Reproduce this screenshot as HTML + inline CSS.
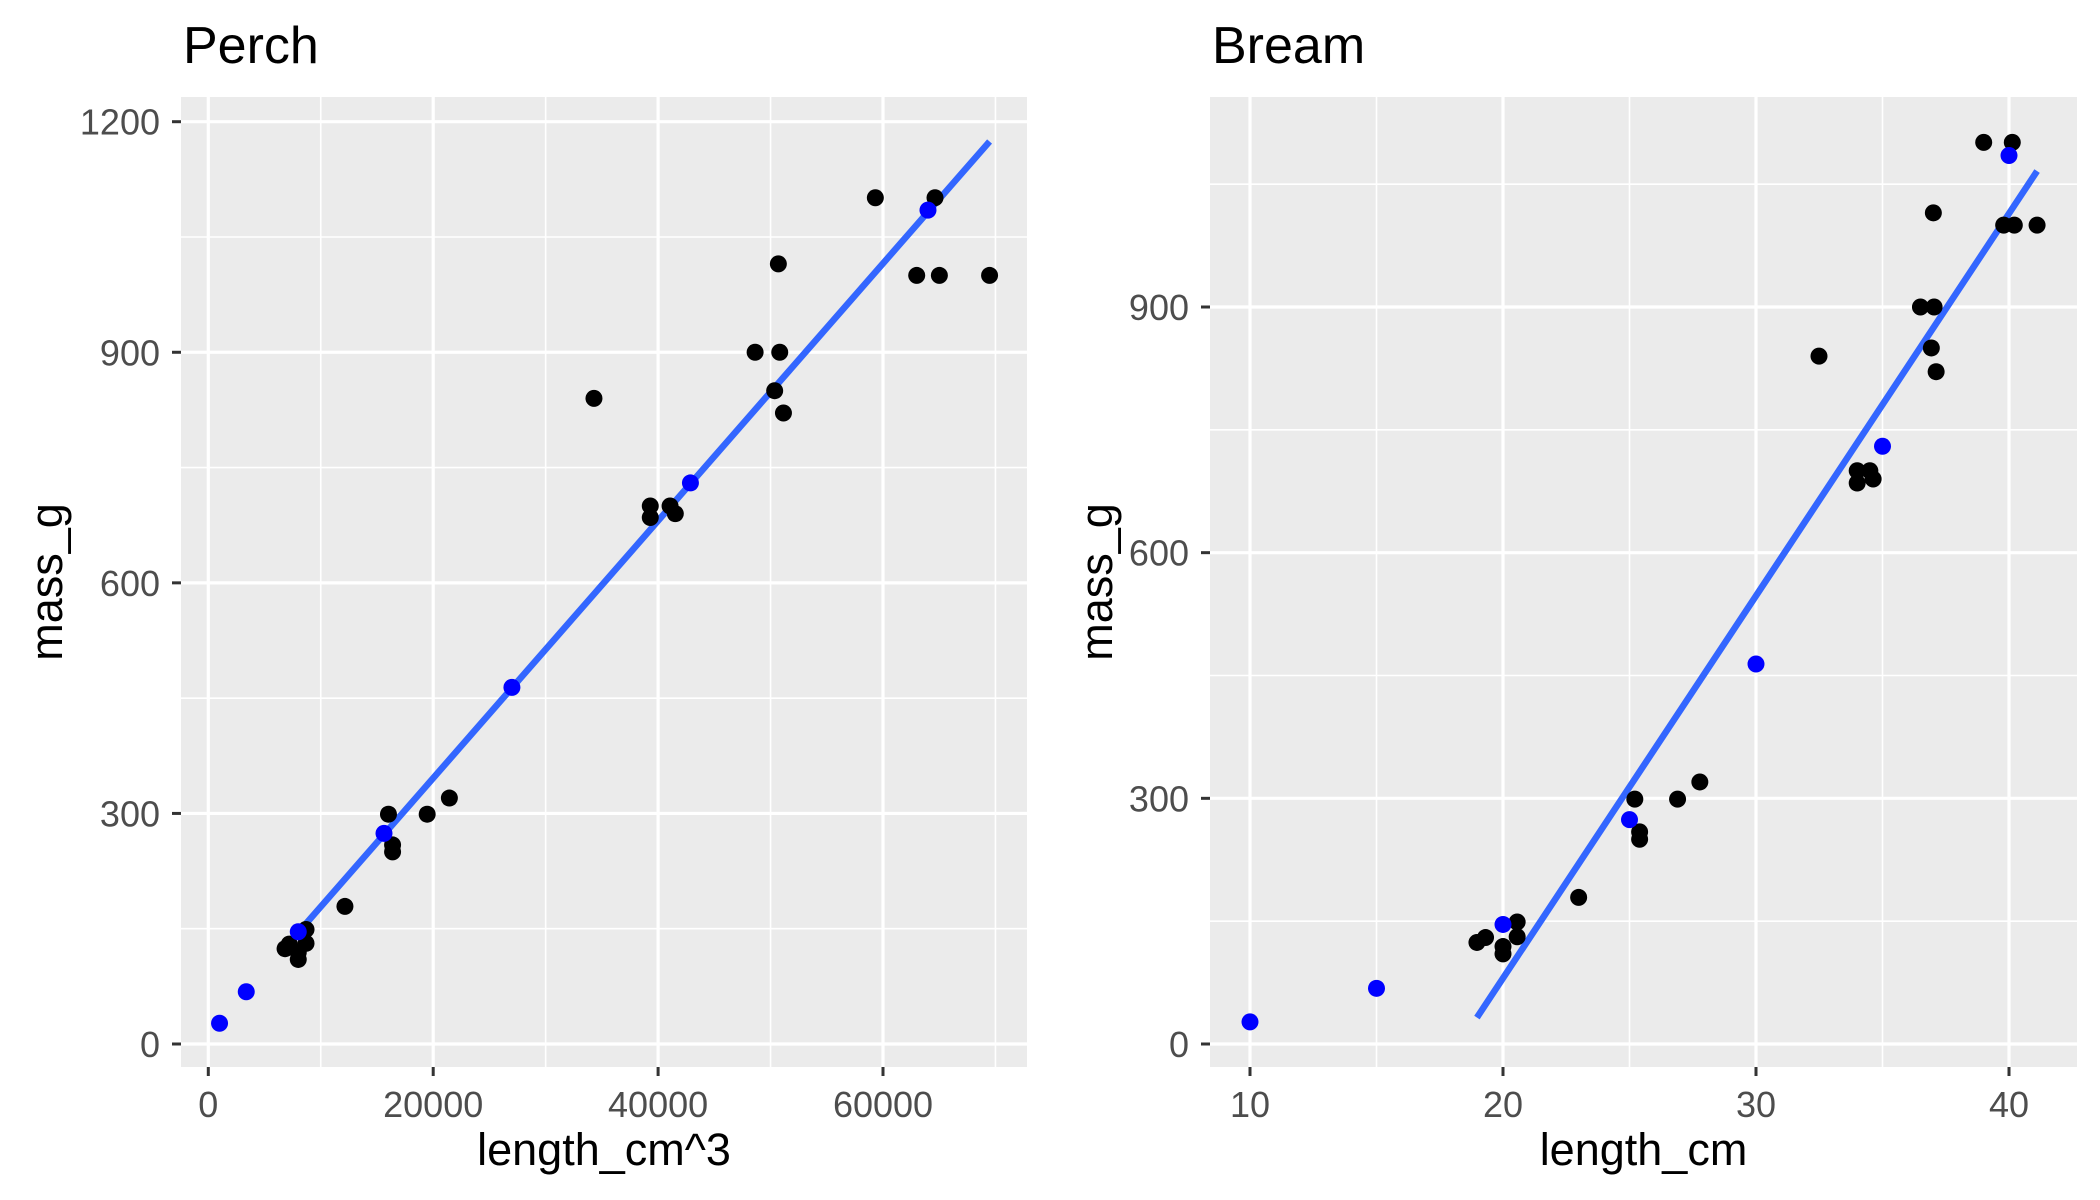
<!DOCTYPE html>
<html><head><meta charset="utf-8"><style>
html,body{margin:0;padding:0;background:#fff;}
svg{display:block;font-family:"Liberation Sans",Arial,sans-serif;}
</style></head><body>
<svg id="chart" width="2100" height="1200" viewBox="0 0 2100 1200" xmlns="http://www.w3.org/2000/svg"></svg>
<script>
// Observed data: bream lengths (cm) and masses (g)
const breamLength = [18.97,19.31,20.0,20.0,20.56,20.56,22.99,25.21,25.40,25.40,26.9,27.78,32.49,34.0,34.0,34.5,34.63,36.5,37.04,36.93,37.01,37.12,39.0,40.13,39.79,40.21,41.11];
const breamMass = [124,130,110,119,131,149,179,299,259,250,299,320,840,700,685,700,690,900,900,850,1015,821,1101,1101,1000,1000,1000];
// Predictions (blue points)
const predLength = [10,15,20,25,30,35,40];
const predMass = [27,68,146,274,464,730,1085];
// Fitted line coefficients
const perchFit = [11.2, 0.01674];
const breamFit = [-853.4, 46.69];
// Tick labels
const perchXTicks = [0,20000,40000,60000];
const perchXMinor = [10000,30000,50000,70000];
const perchYTicks = [0,300,600,900,1200];
const perchYMinor = [150,450,750,1050];
const breamXTicks = [10,20,30,40];
const breamXMinor = [15,25,35];
const breamYTicks = [0,300,600,900];
const breamYMinor = [150,450,750,1050];

const NS = "http://www.w3.org/2000/svg";
const svg = document.getElementById("chart");
function mk(tag, attrs, parent){
  const e = document.createElementNS(NS, tag);
  for (const k in attrs) e.setAttribute(k, attrs[k]);
  (parent||svg).appendChild(e);
  return e;
}

function panel(opt){
  const g = mk("g", {});
  
  
  const sx = v => opt.px0 + (v - opt.xa) / (opt.xb - opt.xa) * (opt.px1 - opt.px0);
  const sy = v => opt.py0 + (v - opt.ya) / (opt.yb - opt.ya) * (opt.py1 - opt.py0);
  const L = opt.left, R = opt.right, T = opt.top, B = opt.bottom;
  const bg = mk("rect", {x:L, y:T, width:R-L, height:B-T, fill:"#ebebeb"}, g);
  
  
  opt.yMinor.forEach(v => {
    const l = mk("line", {x1:L, x2:R, y1:sy(v), y2:sy(v), stroke:"#fff", "stroke-width":1.6}, g);
    
    
  });
  opt.xMinor.forEach(v => {
    const l = mk("line", {x1:sx(v), x2:sx(v), y1:T, y2:B, stroke:"#fff", "stroke-width":1.6}, g);
    
    
  });
  opt.yTicks.forEach(v => {
    const y = sy(v);
    const l = mk("line", {x1:L, x2:R, y1:y, y2:y, stroke:"#fff", "stroke-width":3.2}, g);
    
    
    const t = mk("line", {x1:L-9, x2:L, y1:y, y2:y, stroke:"#333", "stroke-width":3}, g);
    
    
    const tx = mk("text", {x:L-21, y:y+13, "text-anchor":"end", "font-size":36, fill:"#4d4d4d"}, g);
    
    
    tx.textContent = v;
  });
  opt.xTicks.forEach(v => {
    const x = sx(v);
    const l = mk("line", {x1:x, x2:x, y1:T, y2:B, stroke:"#fff", "stroke-width":3.2}, g);
    
    
    const t = mk("line", {x1:x, x2:x, y1:B, y2:B+9, stroke:"#333", "stroke-width":3}, g);
    
    
    const tx = mk("text", {x:x, y:B+50, "text-anchor":"middle", "font-size":36, fill:"#4d4d4d"}, g);
    
    
    tx.textContent = v;
  });
  const xs = breamLength.map(opt.fx);
  const x0 = Math.min(...xs), x1 = Math.max(...xs);
  const fl = mk("line", {x1:sx(x0), y1:sy(opt.fit[0]+opt.fit[1]*x0), x2:sx(x1), y2:sy(opt.fit[0]+opt.fit[1]*x1), stroke:"#3366ff", "stroke-width":6.5}, g);
  
  
  breamLength.forEach((v,i) => {
    const c = mk("circle", {cx:sx(opt.fx(v)), cy:sy(breamMass[i]), r:8.5, fill:"#000"}, g);
    
    
  });
  predLength.forEach((v,i) => {
    const c = mk("circle", {cx:sx(opt.fx(v)), cy:sy(predMass[i]), r:8.5, fill:"#0000ff"}, g);
    
    
  });
  const title = mk("text", {x:L+2, y:63, "font-size":52, fill:"#000"}, g);
  
  
  title.textContent = opt.title;
  const xt = mk("text", {x:(L+R)/2, y:1165, "text-anchor":"middle", "font-size":45, fill:"#000"}, g);
  
  
  xt.textContent = opt.xlab;
  const yc = (T+B)/2;
  const yt = mk("text", {x:opt.ylabX, y:yc, "text-anchor":"middle", "font-size":45, fill:"#000", transform:"rotate(-90 "+opt.ylabX+" "+yc+")"}, g);
  
  
  yt.textContent = "mass_g";
}

panel({name:"perch-panel", title:"Perch", xlab:"length_cm^3", fx:v=>v*v*v, fit:perchFit,
  left:181, right:1027, top:97, bottom:1067,
  xa:0, xb:60000, px0:208.3, px1:883, ya:0, yb:1200, py0:1044, py1:121.7,
  xTicks:perchXTicks, xMinor:perchXMinor, yTicks:perchYTicks, yMinor:perchYMinor, ylabX:62});
panel({name:"bream-panel", title:"Bream", xlab:"length_cm", fx:v=>v, fit:breamFit,
  left:1210, right:2077, top:97, bottom:1067,
  xa:10, xb:40, px0:1250, px1:2009, ya:0, yb:900, py0:1044, py1:307,
  xTicks:breamXTicks, xMinor:breamXMinor, yTicks:breamYTicks, yMinor:breamYMinor, ylabX:1112});
</script>
</body></html>
